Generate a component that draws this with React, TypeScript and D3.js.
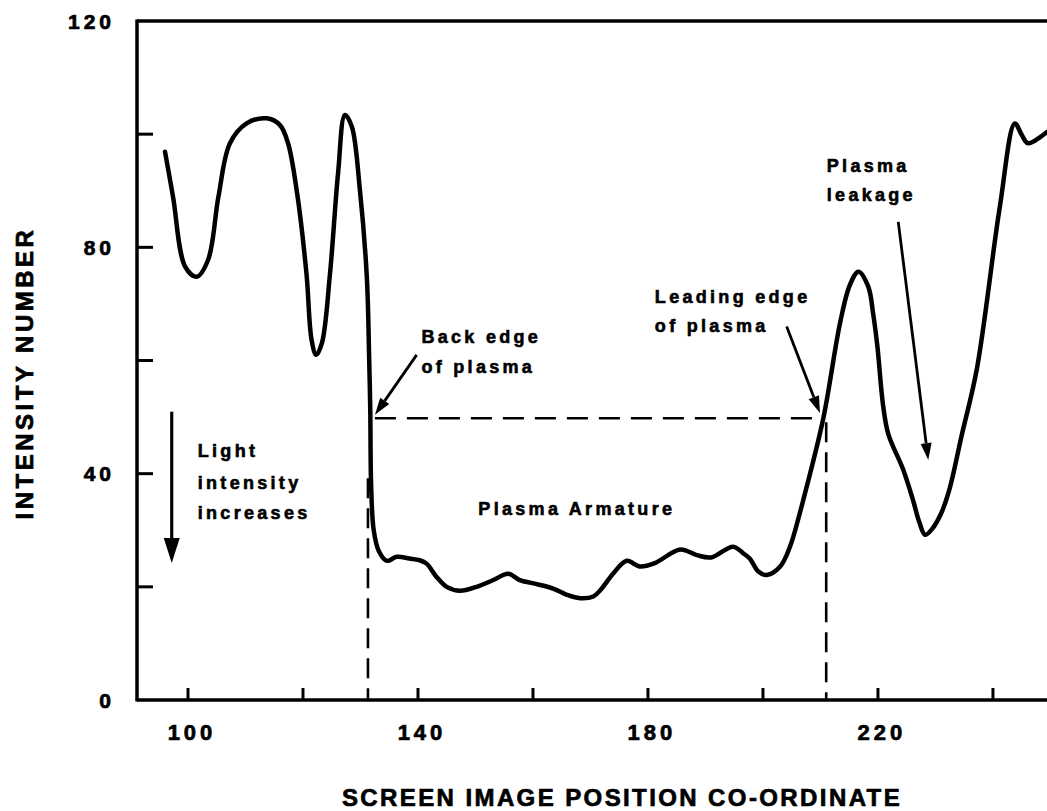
import * as d3 from "d3";

// screen position vs intensity
const positions = [
  96.0, 97.4, 99.5, 101.5, 103.5, 105.3, 107.3, 110.2, 113.7, 116.0, 117.4, 118.9,
  120.6, 121.5, 122.3, 123.3, 124.7, 126.1, 127.3, 128.5, 129.9, 131.1, 131.5, 131.7,
  131.85, 132.3, 133.2, 134.6, 136.3, 138.5, 140.3, 141.5, 143.2, 145.0, 147.3, 150.2,
  153.1, 155.7, 157.7, 160.1, 163.5, 165.9, 168.2, 170.5, 171.7, 174.0, 176.3, 178.6,
  181.2, 185.6, 188.5, 191.0, 194.8, 196.6, 197.7, 199.2, 200.6, 203.0, 204.7, 206.4,
  207.0, 210.5, 213.4, 215.1, 216.6, 218.3, 219.2, 219.9, 220.9, 221.8, 224.4, 226.1,
  227.2, 228.2, 229.4, 231.0, 232.5, 234.5, 237.2, 241.2, 243.8, 245.0, 246.1, 249.4,
];
const intensity = [
  96.9, 88.9, 76.6, 74.8, 77.8, 89.0, 98.4, 101.9, 102.8, 101.6, 98.4, 90.1,
  75.4, 63.6, 61.0, 63.1, 75.4, 93.1, 103.4, 101.3, 90.1, 74.8, 60.7, 51.3,
  38.0, 30.0, 26.3, 24.6, 25.3, 25.0, 24.7, 24.1, 21.8, 20.0, 19.3, 20.0,
  21.2, 22.3, 21.2, 20.6, 19.7, 18.6, 18.0, 18.3, 19.4, 22.4, 24.6, 23.6,
  24.2, 26.6, 25.6, 25.2, 27.1, 25.9, 25.0, 22.7, 22.1, 23.6, 27.1, 33.0,
  35.3, 49.8, 66.6, 73.3, 75.7, 73.1, 68.0, 62.5, 52.0, 47.0, 40.7, 35.3,
  31.4, 29.2, 30.2, 33.0, 37.5, 46.5, 58.5, 87.2, 101.9, 99.9, 98.4, 100.4,
];

const yTicks = [0, 20, 40, 60, 80, 100, 120];
const yLabels = [0, 40, 80, 120];
const xTicks = [100, 120, 140, 160, 180, 200, 220, 240];
const xLabels = [100, 140, 180, 220];

// plasma edges
const edgeLevel = 49.8;
const backEdge = 131.3;
const leadingEdge = 211.0;
const levelStart = 132.5;
const levelEnd = 210.5;

type Note = { lines: string[]; x: number; y: number[] };
const notes: Note[] = [
  { lines: ["Light", "intensity", "increases"], x: 101.7, y: [42.9, 37.3, 32.0] },
  { lines: ["Back edge", "of plasma"], x: 140.6, y: [63.1, 57.8] },
  { lines: ["Leading edge", "of plasma"], x: 181.2, y: [70.1, 65.1] },
  { lines: ["Plasma", "leakage"], x: 211.1, y: [93.3, 88.25] },
  { lines: ["Plasma Armature"], x: 150.5, y: [32.7] },
];

// [x0, y0, x1, y1] tail -> tip
const arrows = [
  [97.17, 50.95, 97.17, 24.2],
  [139.77, 61.0, 132.52, 50.4],
  [204.12, 66.0, 209.91, 50.7],
  [223.53, 84.5, 228.75, 42.4],
];

const W = 1047;
const H = 811;
const font = "'Liberation Sans', Arial, Helvetica, sans-serif";

export default function App() {
  const x = d3.scaleLinear().domain([91.13, 249.4]).range([137, 1047]);
  const y = d3.scaleLinear().domain([0, 120]).range([700, 21]);

  const pts = positions.map((p, i) => [p, intensity[i]] as [number, number]);
  const line = d3
    .line<[number, number]>()
    .x((d) => x(d[0]))
    .y((d) => y(d[1]))
    .curve(d3.curveCatmullRom.alpha(0.5));

  const arrowEl = (a: number[], i: number) => {
    const x0 = x(a[0]), y0 = y(a[1]), x1 = x(a[2]), y1 = y(a[3]);
    const big = i === 0;
    const len = big ? 25 : 17;
    const half = big ? 8 : 5.5;
    const ang = Math.atan2(y1 - y0, x1 - x0);
    const bx = x1 - len * Math.cos(ang);
    const by = y1 - len * Math.sin(ang);
    const nx = -Math.sin(ang) * half;
    const ny = Math.cos(ang) * half;
    return (
      <g key={"a" + i}>
        <line x1={x0} y1={y0} x2={bx} y2={by} stroke="#000" strokeWidth={big ? 3.2 : 2.8} />
        <polygon points={`${x1},${y1} ${bx + nx},${by + ny} ${bx - nx},${by - ny}`} fill="#000" />
      </g>
    );
  };

  return (
    <svg width={W} height={H} style={{ position: "absolute", left: 0, top: 0, background: "#fff" }}>
      <defs>
        <clipPath id="plot">
          <rect x={137} y={0} width={W - 137} height={702} />
        </clipPath>
      </defs>

      {/* frame */}
      <g stroke="#000" strokeWidth={3.5} fill="none">
        <line x1={137} y1={y(120)} x2={W} y2={y(120)} />
        <line x1={137} y1={y(120) - 1.5} x2={137} y2={y(0) + 1.5} />
        <line x1={137} y1={y(0)} x2={W} y2={y(0)} />
      </g>
      <g stroke="#000" strokeWidth={3}>
        {yTicks.slice(1, -1).map((t) => (
          <line key={"yt" + t} x1={137} x2={153} y1={y(t)} y2={y(t)} />
        ))}
        {xTicks.map((t) => (
          <line key={"xt" + t} x1={x(t)} x2={x(t)} y1={y(0)} y2={y(0) - 12} />
        ))}
      </g>

      <g fontFamily={font} fontWeight="bold" fill="#000" stroke="#000" strokeWidth={0.7}>
        {yLabels.map((t) => (
          <text key={"yl" + t} x={115} y={y(t)} dy="0.36em" textAnchor="end" fontSize={21} letterSpacing={4}>
            {t}
          </text>
        ))}
        {xLabels.map((t) => (
          <text key={"xl" + t} x={x(t) + 4} y={740} textAnchor="middle" fontSize={22} letterSpacing={4}>
            {t}
          </text>
        ))}
        <text x={622} y={806} textAnchor="middle" fontSize={24} letterSpacing={2.4}>
          SCREEN IMAGE POSITION CO-ORDINATE
        </text>
        <text transform="translate(33,373) rotate(-90)" textAnchor="middle" fontSize={24} letterSpacing={3.5}>
          INTENSITY NUMBER
        </text>
      </g>

      {/* dashed edge markers */}
      <g stroke="#000" strokeWidth={2.6} strokeDasharray="21 11" fill="none">
        <line x1={x(levelStart)} x2={x(levelEnd)} y1={y(edgeLevel)} y2={y(edgeLevel)} />
        <line x1={x(backEdge)} x2={x(backEdge)} y1={y(edgeLevel) + 60} y2={y(0)} strokeDasharray="20 10" />
        <line x1={x(leadingEdge)} x2={x(leadingEdge)} y1={y(edgeLevel) + 4} y2={y(0)} strokeDasharray="20 10" />
      </g>

      <path
        d={line(pts) || ""}
        fill="none"
        stroke="#000"
        strokeWidth={4.5}
        strokeLinejoin="round"
        strokeLinecap="round"
        clipPath="url(#plot)"
      />

      {arrows.map(arrowEl)}

      <g fontFamily={font} fontWeight="bold" fill="#000" stroke="#000" strokeWidth={0.6} fontSize={18} letterSpacing={3.3}>
        {notes.map((n, i) =>
          n.lines.map((s, j) => (
            <text key={`n${i}-${j}`} x={x(n.x)} y={y(n.y[j])}>
              {s}
            </text>
          ))
        )}
      </g>
    </svg>
  );
}
